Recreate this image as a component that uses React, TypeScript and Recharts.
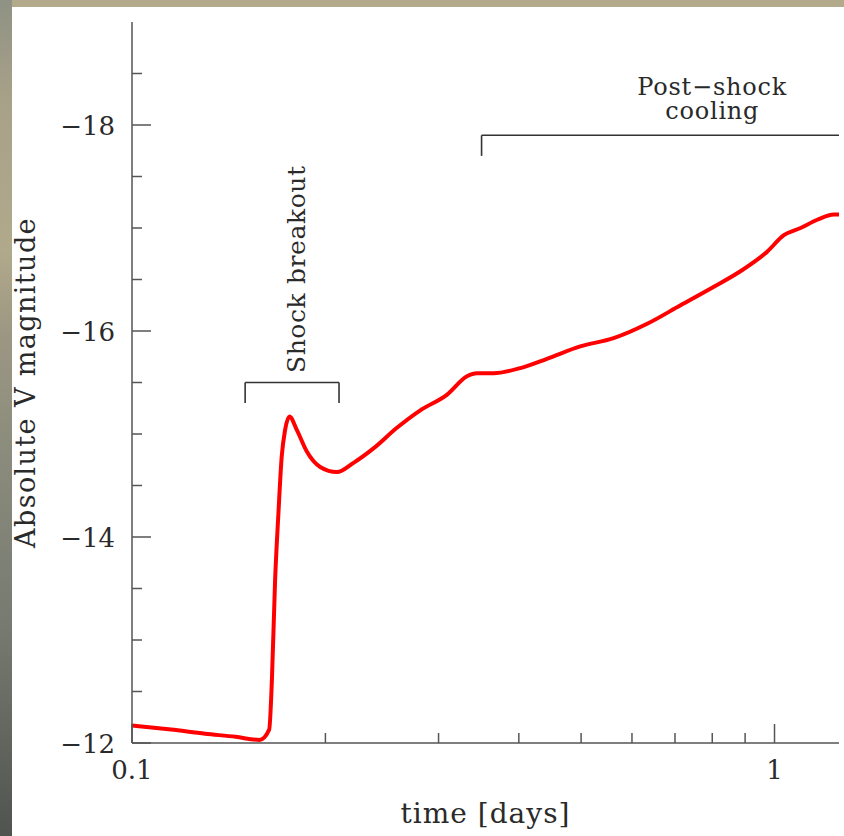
import React from 'react';
import { LineChart, Line, XAxis, YAxis, ReferenceLine, ReferenceDot } from 'recharts';

// light curve: time in days vs absolute V magnitude
const days = [
  0.1, 0.115, 0.13, 0.145, 0.158, 0.1635, 0.1651, 0.167, 0.169, 0.171,
  0.1731, 0.1758, 0.1805, 0.1871, 0.1963, 0.2084, 0.2212, 0.2376, 0.2584, 0.281,
  0.309, 0.3322, 0.3442, 0.3655, 0.4021, 0.4424, 0.4985, 0.5617, 0.6336, 0.714,
  0.8047, 0.885, 0.974, 1.034, 1.098, 1.166, 1.237, 1.26,
];
const absMag = [
  -12.17, -12.13, -12.09, -12.06, -12.03, -12.13, -12.61, -13.58, -14.23, -14.78,
  -15.04, -15.17, -15.04, -14.83, -14.68, -14.63, -14.72, -14.86, -15.06, -15.23,
  -15.38, -15.56, -15.59, -15.59, -15.64, -15.73, -15.85, -15.93, -16.07, -16.25,
  -16.43, -16.58, -16.77, -16.93, -17.0, -17.08, -17.13, -17.13,
];

const xDomain = [0.1, 1.26];
const yDomain = [-19, -12];
const xTicks = [0.1, 0.2, 0.3, 0.4, 0.5, 0.6, 0.7, 0.8, 0.9, 1];
const xMajor = [0.1, 1];
const yTicks = [-18.5, -18, -17.5, -17, -16.5, -16, -15.5, -15, -14.5, -14, -13.5, -13, -12.5, -12];
const yMajor = [-18, -16, -14, -12];

// annotation brackets (data units)
const breakout = { from: 0.15, to: 0.21, top: -15.5, foot: -15.3, textAt: [0.186, -16.6] };
const cooling = { from: 0.35, to: 1.26, top: -17.9, foot: -17.7, textAt: [0.8, -18.29] };

const data = days.map((t, i) => ({ t, mag: absMag[i] }));

const FONT = '"DejaVu Serif", serif';
const INK = '#2a2a2a';
const FRAME = '#555';
const MAJOR_LEN = 19;
const MINOR_LEN = 10;

const fmtMag = (v: number) => (v < 0 ? '\u2212' + Math.abs(v) : String(v));

function BottomTick(p: any) {
  const major = xMajor.includes(p.payload.value);
  return (
    <g>
      <line x1={p.x} y1={p.y} x2={p.x} y2={p.y - (major ? MAJOR_LEN : MINOR_LEN)} stroke={FRAME} strokeWidth={1.5} />
      {major && (
        <text x={p.x} y={p.y + 36} textAnchor="middle" fontFamily={FONT} fontSize={26} fill={INK}>
          {String(p.payload.value)}
        </text>
      )}
    </g>
  );
}

function TopTick(p: any) {
  const major = xMajor.includes(p.payload.value);
  return <line x1={p.x} y1={p.y} x2={p.x} y2={p.y + (major ? MAJOR_LEN : MINOR_LEN)} stroke={FRAME} strokeWidth={1.5} />;
}

function LeftTick(p: any) {
  const major = yMajor.includes(p.payload.value);
  return (
    <g>
      <line x1={p.x} y1={p.y} x2={p.x + (major ? MAJOR_LEN : MINOR_LEN)} y2={p.y} stroke={FRAME} strokeWidth={1.5} />
      {major && (
        <text x={p.x - 17} y={p.y + 10} textAnchor="end" fontFamily={FONT} fontSize={26} fill={INK}>
          {fmtMag(p.payload.value)}
        </text>
      )}
    </g>
  );
}

function RightTick(p: any) {
  const major = yMajor.includes(p.payload.value);
  return <line x1={p.x} y1={p.y} x2={p.x - (major ? MAJOR_LEN : MINOR_LEN)} y2={p.y} stroke={FRAME} strokeWidth={1.5} />;
}

const bracketStyle = { stroke: '#333', strokeWidth: 1.6 };

export default function App() {
  return (
    <div style={{ position: 'absolute', left: 0, top: 0, width: 844, height: 836, background: '#fff', overflow: 'hidden' }}>
      <div style={{ position: 'absolute', left: 0, top: 0, width: 844, height: 7, background: '#b3aa8c' }} />
      <div
        style={{
          position: 'absolute', left: 0, top: 0, width: 12, height: 836,
          background: 'linear-gradient(to bottom, #8f9284 0%, #a8a189 12%, #b1a98b 30%, #9c9783 40%, #8a8b7c 55%, #767a70 75%, #50544f 100%)',
        }}
      />
      <div style={{ position: 'absolute', left: 0, top: 7 }}>
        <LineChart width={844} height={829} data={data} margin={{ top: 15, right: 5, bottom: 33, left: 32 }}>
          <XAxis
            xAxisId="b" dataKey="t" type="number" scale="log" domain={xDomain} allowDataOverflow
            ticks={xTicks} interval={0} tickSize={0} tickMargin={0} tickLine={false} height={60}
            axisLine={{ stroke: FRAME, strokeWidth: 1.5 }} tick={BottomTick}
            label={(p: any) => {
              const vb = p.viewBox ?? p;
              return (
                <text x={vb.x + vb.width / 2} y={vb.y + 80} textAnchor="middle" fontFamily={FONT} fontSize={28} letterSpacing={1} fill={INK}>
                  time [days]
                </text>
              );
            }}
          />
          <XAxis
            xAxisId="t" orientation="top" dataKey="t" type="number" scale="log" domain={xDomain} allowDataOverflow
            ticks={xTicks} interval={0} tickSize={0} tickMargin={0} tickLine={false} height={0}
            axisLine={{ stroke: FRAME, strokeWidth: 1.5 }} tick={TopTick}
          />
          <YAxis
            yAxisId="l" type="number" domain={yDomain} reversed allowDataOverflow
            ticks={yTicks} interval={0} tickSize={0} tickMargin={0} tickLine={false} width={100}
            axisLine={{ stroke: FRAME, strokeWidth: 1.5 }} tick={LeftTick}
            label={(p: any) => {
              const vb = p.viewBox ?? p;
              const cx = vb.x + 3;
              const cy = vb.y + vb.height / 2;
              return (
                <text x={cx} y={cy} transform={`rotate(-90 ${cx} ${cy})`} textAnchor="middle" fontFamily={FONT} fontSize={27} letterSpacing={1.4} fill={INK}>
                  Absolute V magnitude
                </text>
              );
            }}
          />
          <YAxis
            yAxisId="r" orientation="right" type="number" domain={yDomain} reversed allowDataOverflow
            ticks={yTicks} interval={0} tickSize={0} tickMargin={0} tickLine={false} width={0}
            axisLine={{ stroke: FRAME, strokeWidth: 1.5 }} tick={RightTick}
          />

          <ReferenceLine xAxisId="b" yAxisId="l" segment={[{ x: breakout.from, y: breakout.foot }, { x: breakout.from, y: breakout.top }]} {...bracketStyle} />
          <ReferenceLine xAxisId="b" yAxisId="l" segment={[{ x: breakout.from, y: breakout.top }, { x: breakout.to, y: breakout.top }]} {...bracketStyle} />
          <ReferenceLine xAxisId="b" yAxisId="l" segment={[{ x: breakout.to, y: breakout.top }, { x: breakout.to, y: breakout.foot }]} {...bracketStyle} />
          <ReferenceLine xAxisId="b" yAxisId="l" segment={[{ x: cooling.from, y: cooling.foot }, { x: cooling.from, y: cooling.top }]} {...bracketStyle} />
          <ReferenceLine xAxisId="b" yAxisId="l" segment={[{ x: cooling.from, y: cooling.top }, { x: cooling.to, y: cooling.top }]} {...bracketStyle} />

          <ReferenceDot
            xAxisId="b" yAxisId="l" x={breakout.textAt[0]} y={breakout.textAt[1]} r={0} ifOverflow="visible"
            shape={(p: any) => (
              <text x={p.cx} y={p.cy} transform={`rotate(-90 ${p.cx} ${p.cy})`} textAnchor="middle" fontFamily={FONT} fontSize={25} letterSpacing={0.6} fill={INK}>
                Shock breakout
              </text>
            )}
          />
          <ReferenceDot
            xAxisId="b" yAxisId="l" x={cooling.textAt[0]} y={cooling.textAt[1]} r={0} ifOverflow="visible"
            shape={(p: any) => (
              <text textAnchor="middle" fontFamily={FONT} fontSize={24} letterSpacing={0.8} fill={INK}>
                <tspan x={p.cx} y={p.cy}>Post{'\u2212'}shock</tspan>
                <tspan x={p.cx} y={p.cy + 24}>cooling</tspan>
              </text>
            )}
          />

          <Line
            xAxisId="b" yAxisId="l" dataKey="mag" type="monotone"
            stroke="#ff0000" strokeWidth={4} dot={false} activeDot={false} isAnimationActive={false}
          />
        </LineChart>
      </div>
    </div>
  );
}
